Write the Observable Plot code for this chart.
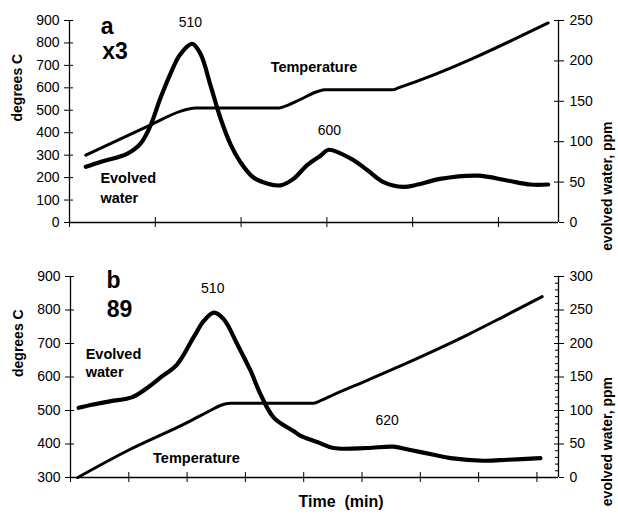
<!DOCTYPE html>
<html>
<head>
<meta charset="utf-8">
<script src="https://cdn.jsdelivr.net/npm/d3@7"></script>
<script src="https://cdn.jsdelivr.net/npm/@observablehq/plot@0.6"></script>
<style>
  html, body { margin: 0; padding: 0; background: #fff; overflow: hidden; }
  #root { position: relative; width: 618px; height: 517px; font-family: "Liberation Sans", Arial, Helvetica, sans-serif; }
  .layer { position: absolute; left: 0; }
  .layer svg { position: absolute; left: 0; top: 0; }
  #xlabel { position: absolute; top: 493px; left: 341px; transform: translateX(-50%); font-weight: bold; font-size: 16px; white-space: pre; color: #000; }
</style>
</head>
<body>
<div id="root">
  <div id="pa" class="layer" style="top:0px;width:618px;height:250px"></div>
  <div id="pb" class="layer" style="top:250px;width:618px;height:240px"></div>
  <div id="xlabel">Time  (min)</div>
</div>
<script>
// ---------- Panel a ----------
const timeTicksA = [0, 1, 2, 3, 4, 5];
const tempTicksA = [0, 100, 200, 300, 400, 500, 600, 700, 800, 900];
const waterTicksA = [0, 50, 100, 150, 200, 250];
const tempTimeA = [0.19, 0.94, 1.29, 1.39, 1.47, 2.44, 2.49, 2.69, 2.90, 2.98, 3.76, 3.84, 5.58];
const tempA     = [300,  434,  495,  506,  510,  510,  515,  548,  585,  591,  591,  601,  889];
const waterTimeA = [0.19, 0.36, 0.67, 0.83, 0.94, 1.06, 1.18, 1.29, 1.43, 1.53, 1.64, 1.76, 1.88, 1.99, 2.14, 2.31, 2.46, 2.61, 2.77, 2.93, 3.02, 3.28, 3.47, 3.66, 3.89, 4.06, 4.32, 4.76, 5.10, 5.37, 5.58];
const waterA     = [69,   75,   85,   98,   119,  154,  185,  208,  221,  208,  171,  129,  96,   75,   56,   48,   46,   54,   71,   83,   90,   79,   65,   50,   44,   47,   54,   58,   52,   47,   47];

// ---------- Panel b ----------
const timeTicksB = [0, 1, 2, 3, 4, 5, 6, 7, 8];
const tempTicksB = [300, 400, 500, 600, 700, 800, 900];
const waterTicksB = [0, 50, 100, 150, 200, 250, 300];
const waterMinorB = d3.range(0, 301, 10).filter(v => v % 50 !== 0);
const tempTimeB = [0.125, 1.0, 2.0, 2.4, 2.57, 2.74, 4.17, 4.30, 4.51, 5.09, 5.66, 6.23, 6.81, 7.38, 8.09];
const tempB     = [300,   382, 464, 500, 515,  522,  522,  530,  547,  590,  633,  678,  726,  776,  840];
const waterTimeB = [0.14, 0.39, 0.69, 1.06, 1.32, 1.54, 1.83, 2.11, 2.29, 2.46, 2.63, 2.86, 3.09, 3.26, 3.49, 3.83, 3.95, 4.23, 4.51, 5.09, 5.54, 5.83, 6.23, 6.52, 7.08, 7.50, 8.06];
const waterB     = [104,  109,  114,  120,  134,  149,  169,  209,  234,  246,  236,  199,  159,  124,  89,   69,   62,   53,   44,   44,   46,   41,   34,   29,   25,   26.5, 29];

const FONT = "Liberation Sans, Arial, Helvetica, sans-serif";
const rows = (xs, ys) => xs.map((t, i) => ({t, v: ys[i]}));

function panel(o) {
  const W = 618;
  const iw = W - o.ml - o.mr, ih = o.height - o.mt - o.mb;
  const [x0, x1] = o.xDomain;
  const ux = (x1 - x0) / iw;
  const uT = (o.tDomain[1] - o.tDomain[0]) / ih;
  const common = {
    width: W, height: o.height,
    marginTop: o.mt, marginBottom: o.mb, marginLeft: o.ml, marginRight: o.mr,
    style: {fontFamily: FONT, fontSize: "14px", background: "transparent", color: "black", overflow: "visible"}
  };
  const ann = o.notes.map(n => Plot.text([n.text], {
    x: n.x, y: n.y, text: d => d, fontSize: n.size, fontWeight: n.weight || "normal",
    textAnchor: n.anchor || "middle", lineHeight: n.lh || 1, fill: "black"
  }));
  const tempPlot = Plot.plot({
    ...common,
    x: {domain: o.xDomain},
    y: {domain: o.tDomain},
    marks: [
      Plot.ruleX([x0], {stroke: "black", strokeWidth: 1.3}),
      Plot.ruleY([o.tDomain[0]], {stroke: "black", strokeWidth: 1.3}),
      Plot.axisY({ticks: o.tTicks, tickSize: 5, tickPadding: 5, label: null, fontSize: 14}),
      Plot.ruleY(o.tTicks, {x1: x0, x2: x0 + 4 * ux, stroke: "black"}),
      Plot.axisX({ticks: o.xTicks, tickSize: 5, tickFormat: () => "", label: null}),
      Plot.ruleX(o.xTicks, {y1: o.tDomain[0], y2: o.tDomain[0] + 5 * uT, stroke: "black"}),
      Plot.line(o.tempRows, {x: "t", y: "v", stroke: "black", strokeWidth: 3, curve: "monotone-x"}),
      Plot.text([o.tLabel], {frameAnchor: "left", dx: -52, rotate: -90, text: d => d, fontSize: 14, fontWeight: "bold"}),
      ...ann
    ]
  });
  const wD = o.wDomain;
  const waterPlot = Plot.plot({
    ...common,
    x: {domain: o.xDomain, axis: null},
    y: {domain: wD},
    marks: [
      Plot.ruleX([x1], {stroke: "black", strokeWidth: 1.3}),
      Plot.axisY({anchor: "right", ticks: o.wTicks, tickSize: 5, tickPadding: 6, label: null, fontSize: 14}),
      Plot.ruleY(o.wTicks, {x1: x1 - 4 * ux, x2: x1, stroke: "black"}),
      o.minor ? Plot.ruleY(o.minor, {x1: x1 - 3 * ux, x2: x1, stroke: "black"}) : null,
      Plot.line(o.waterRows, {x: "t", y: "v", stroke: "black", strokeWidth: 4.2, curve: "catmull-rom"}),
      Plot.text([o.wLabel], {frameAnchor: "right", dx: 49, rotate: -90, text: d => d, fontSize: 14, fontWeight: "bold"})
    ]
  });
  const el = document.getElementById(o.el);
  el.append(tempPlot, waterPlot);
}

panel({
  el: "pa", height: 250, mt: 20, mb: 28, ml: 69, mr: 60,
  xDomain: [0, 5.70], tDomain: [0, 900], wDomain: [0, 250],
  xTicks: timeTicksA, tTicks: tempTicksA, wTicks: waterTicksA,
  tempRows: rows(tempTimeA, tempA), waterRows: rows(waterTimeA, waterA),
  tLabel: "degrees C", wLabel: "evolved water, ppm",
  notes: [
    {text: "a", x: 0.44, y: 873, size: 23, weight: "bold"},
    {text: "x3", x: 0.53, y: 761, size: 23, weight: "bold"},
    {text: "510", x: 1.41, y: 889, size: 14},
    {text: "Temperature", x: 2.85, y: 689, size: 14.5, weight: "bold"},
    {text: "Evolved\nwater", x: 0.36, y: 158, size: 14.5, weight: "bold", anchor: "start", lh: 1.38},
    {text: "600", x: 3.03, y: 412, size: 14}
  ]
});

panel({
  el: "pb", height: 240, mt: 26, mb: 13, ml: 70, mr: 60,
  xDomain: [0, 8.37], tDomain: [300, 900], wDomain: [0, 300],
  xTicks: timeTicksB, tTicks: tempTicksB, wTicks: waterTicksB, minor: waterMinorB,
  tempRows: rows(tempTimeB, tempB), waterRows: rows(waterTimeB, waterB),
  tLabel: "degrees C", wLabel: "evolved water, ppm",
  notes: [
    {text: "b", x: 0.74, y: 888, size: 23, weight: "bold"},
    {text: "89", x: 0.84, y: 800, size: 23, weight: "bold"},
    {text: "510", x: 2.44, y: 863, size: 14},
    {text: "Evolved\nwater", x: 0.26, y: 644, size: 14.5, weight: "bold", anchor: "start", lh: 1.27},
    {text: "Temperature", x: 2.16, y: 358, size: 14.5, weight: "bold"},
    {text: "620", x: 5.43, y: 470, size: 14}
  ]
});
</script>
</body>
</html>
